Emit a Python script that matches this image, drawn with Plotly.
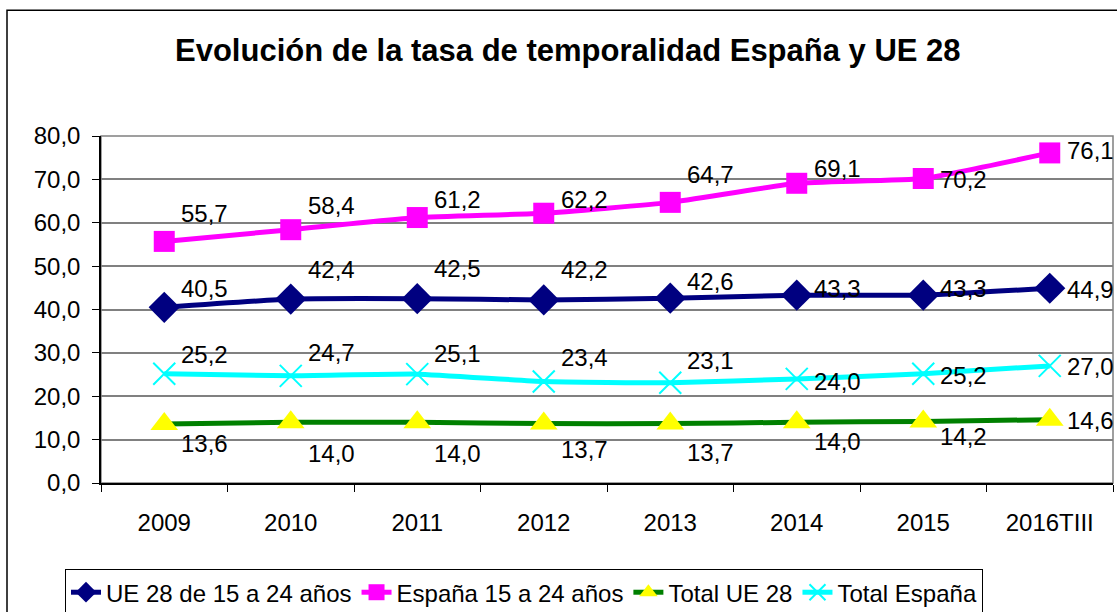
import plotly.graph_objects as go

categories = ["2009", "2010", "2011", "2012", "2013", "2014", "2015", "2016TIII"]
ue28_15_24 = [40.5, 42.4, 42.5, 42.2, 42.6, 43.3, 43.3, 44.9]
espana_15_24 = [55.7, 58.4, 61.2, 62.2, 64.7, 69.1, 70.2, 76.1]
total_ue28 = [13.6, 14.0, 14.0, 13.7, 13.7, 14.0, 14.2, 14.6]
total_espana = [25.2, 24.7, 25.1, 23.4, 23.1, 24.0, 25.2, 27.0]

FONT = "Liberation Sans, Arial, sans-serif"

series = [
    dict(name="UE 28 de 15 a 24 años", y=ue28_15_24, line="#000080",
         marker=dict(symbol="diamond", size=24, color="#000080"),
         dy=[-20, -31, -31, -31, -18, -8, -8, 0]),
    dict(name="España 15 a 24 años", y=espana_15_24, line="#FF00FF",
         marker=dict(symbol="square", size=21, color="#FF00FF"),
         dy=[-29, -25, -19, -15, -29, -16, 0, -3]),
    dict(name="Total UE 28", y=total_ue28, line="#008000",
         marker=dict(symbol="triangle-up", size=24, color="#FFFF00"),
         dy=[18, 30, 30, 25, 28, 18, 14, 0]),
    dict(name="Total España", y=total_espana, line="#00FFFF",
         marker=dict(symbol="x-thin", size=22, color="#00FFFF",
                     line=dict(color="#00FFFF", width=2)),
         dy=[-20, -24, -22, -25, -23, 2, 1, 0]),
]

fig = go.Figure()
annotations = []
for s in series:
    fig.add_trace(go.Scatter(
        x=categories, y=s["y"], name=s["name"], mode="lines+markers",
        line=dict(color=s["line"], width=5, shape="spline", smoothing=0.4),
        marker=s["marker"],
    ))
    for i, (v, d) in enumerate(zip(s["y"], s["dy"])):
        annotations.append(dict(
            x=i, y=v, xref="x", yref="y",
            text=f"{v:.1f}".replace(".", ","), showarrow=False,
            xanchor="left", yanchor="middle", xshift=15, yshift=-d - 1,
            font=dict(family=FONT, size=24, color="black"),
        ))

annotations.append(dict(
    text="<b>Evolución de la tasa de temporalidad España y UE 28</b>",
    xref="paper", yref="paper", x=(568 - 101) / 1012, y=(483 - 51) / 346.5,
    xanchor="center", yanchor="middle", showarrow=False,
    font=dict(family=FONT, size=31, color="black"),
))

fig.update_layout(
    width=1117, height=612,
    margin=dict(l=101, r=4, t=136, b=129, autoexpand=False),
    paper_bgcolor="white", plot_bgcolor="white",
    separators=",.",
    showlegend=True,
    font=dict(family=FONT, size=24, color="black"),
    annotations=annotations,
    legend=dict(
        orientation="h", x=(65 - 101) / 1012, xanchor="left",
        y=(483 - 569) / 346.5, yanchor="top",
        bordercolor="black", borderwidth=1, bgcolor="white",
        font=dict(family=FONT, size=24, color="black"),
        itemwidth=30, tracegroupgap=0,
    ),
    shapes=[
        dict(type="rect", xref="paper", yref="paper",
             x0=(7 - 101) / 1012, x1=1.2, y0=-1.0, y1=(483 - 11) / 346.5,
             line=dict(color="black", width=1.5), layer="below"),
        dict(type="rect", xref="paper", yref="paper",
             x0=0, x1=1, y0=0, y1=1,
             line=dict(color="#808080", width=1.5), layer="below"),
    ],
)

fig.update_xaxes(
    type="category", range=[-0.5, 7.5], showgrid=False,
    showline=True, linecolor="black", linewidth=1.5,
    ticks="outside", ticklen=7, tickcolor="black", tickson="boundaries",
    ticklabelstandoff=17,
    tickfont=dict(family=FONT, size=24, color="black"),
)
fig.update_yaxes(
    range=[0, 80], dtick=10, tickformat=".1f",
    showgrid=True, gridcolor="#808080", gridwidth=1.5,
    showline=True, linecolor="black", linewidth=1.5,
    ticks="outside", ticklen=7, tickcolor="black",
    ticklabelstandoff=7,
    tickfont=dict(family=FONT, size=24, color="black"),
    zeroline=False,
)

fig.write_html(
    "out.html",
    config={"displayModeBar": False},
    post_script="document.body.style.margin='0';document.body.style.overflow='hidden';",
)
